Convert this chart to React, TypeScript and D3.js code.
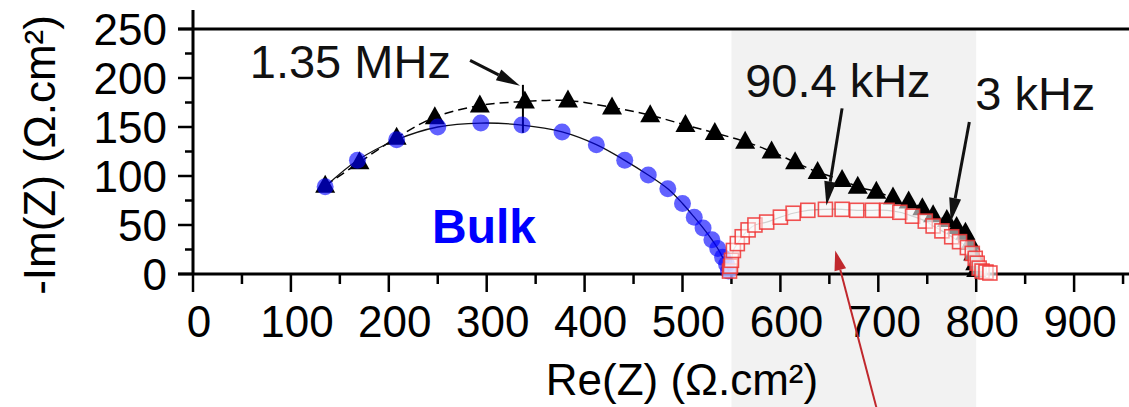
import React from 'react';
import * as d3 from 'd3';

// Nyquist data, Re(Z) / -Im(Z) in Ω.cm²
const bulkRe = [135, 168, 208, 250, 294, 336, 377, 412, 441, 465, 485, 500, 512, 521, 530, 536, 541, 545, 547];
const bulkIm = [89, 116, 137, 150, 154, 152, 145, 132, 116, 101, 87, 72, 58, 47, 35, 26, 17, 10, 3];

const totalRe = [135, 170, 208, 247, 293, 339, 383, 428, 467, 503, 533, 564, 591, 615, 638, 663, 679, 698, 715, 731, 745, 756, 770, 780, 789, 794, 797, 799, 800];
const totalIm = [90, 114, 139, 160, 172, 176, 177, 170, 162, 152, 144, 135, 125, 114, 104, 96, 89, 84, 78, 74, 67, 60, 55, 48, 42, 32, 21, 11, 4];

const gbRe = [548, 549, 550, 552, 556, 561, 567, 574, 586, 600, 613, 628, 646, 663, 678, 694, 709, 722, 735, 748, 756, 765, 775, 783, 791, 796, 799, 801, 803, 806, 810, 814];
const gbIm = [3, 8, 14, 24, 31, 38, 45, 50, 53, 58, 62, 65, 66, 66, 65, 65, 65, 63, 59, 54, 49, 44, 38, 33, 27, 21, 16, 11, 6, 3, 2, 1];

const yTicks = d3.range(0, 251, 25);
const xTicks = d3.range(0, 1000, 50);
const bandRange = [550, 800];

// annotations: [text, re, im] and arrows [reFrom, imFrom, reTo, imTo]
const freqLabels: [string, number, number][] = [
  ['1.35 MHz', 58, 200],
  ['90.4 kHz', 564, 181],
  ['3 kHz', 799, 167],
];
const blackArrows: [number, number, number, number][] = [
  [283, 218, 334, 192],
  [663, 169, 647, 70],
  [793, 155, 774, 53],
];
const redArrow: [number, number, number, number] = [698, -136, 656, 24];

const W = 1129;
const H = 407;
const font = '"Liberation Sans", Arial, sans-serif';

const x = d3.scaleLinear().domain([0, 1000]).range([193, 1172]);
const y = d3.scaleLinear().domain([0, 250]).range([274, 29]);

const Arrow = ({ a, color, width, headLen, headW }: { a: number[]; color: string; width: number; headLen: number; headW: number }) => {
  const x1 = x(a[0]), y1 = y(a[1]), x2 = x(a[2]), y2 = y(a[3]);
  const ang = Math.atan2(y2 - y1, x2 - x1);
  const bx = x2 - headLen * Math.cos(ang);
  const by = y2 - headLen * Math.sin(ang);
  const px = Math.sin(ang) * headW / 2;
  const py = -Math.cos(ang) * headW / 2;
  return (
    <g>
      <line x1={x1} y1={y1} x2={bx} y2={by} stroke={color} strokeWidth={width} />
      <path d={`M${x2},${y2} L${bx + px},${by + py} L${bx - px},${by - py} Z`} fill={color} />
    </g>
  );
};

export default function App() {
  const bulk = bulkRe.map((r, i) => [r, bulkIm[i]] as [number, number]);
  const total = totalRe.map((r, i) => [r, totalIm[i]] as [number, number]);
  const gb = gbRe.map((r, i) => [r, gbIm[i]] as [number, number]);

  const line = d3.line<[number, number]>().x(d => x(d[0])).y(d => y(d[1])).curve(d3.curveCatmullRom);

  return (
    <svg width={W} height={H} style={{ position: 'absolute', left: 0, top: 0, background: '#fff' }} fontFamily={font}>
      {/* shaded grain boundary range */}
      <rect x={x(bandRange[0])} y={y(250)} width={x(bandRange[1]) - x(bandRange[0])} height={H - y(250)} fill="#f2f2f2" />

      {/* frame + axes */}
      <line x1={178} x2={W} y1={y(250)} y2={y(250)} stroke="#000" strokeWidth={3} />
      <line x1={x(0)} x2={x(0)} y1={10} y2={y(0)} stroke="#000" strokeWidth={3} />
      <line x1={178} x2={W} y1={y(0)} y2={y(0)} stroke="#000" strokeWidth={3} />
      {yTicks.map(t => (
        <line key={'yt' + t} x1={x(0) - (t % 50 === 0 ? 15 : 8)} x2={x(0)} y1={y(t)} y2={y(t)} stroke="#000" strokeWidth={2.5} />
      ))}
      {yTicks.filter(t => t % 50 === 0).map(t => (
        <text key={'yl' + t} x={167} y={y(t)} dy="0.36em" textAnchor="end" fontSize={44} fill="#000">{t}</text>
      ))}
      {xTicks.map(t => (
        <line key={'xt' + t} x1={x(t)} x2={x(t)} y1={y(0)} y2={y(0) + (t % 100 === 0 ? 18 : 10)} stroke="#000" strokeWidth={2.5} />
      ))}
      {xTicks.filter(t => t % 100 === 0).map(t => (
        <text key={'xl' + t} x={x(t) + 6} y={337} textAnchor="middle" fontSize={44} fill="#000">{t}</text>
      ))}
      <text x={682} y={395} textAnchor="middle" fontSize={44} fill="#000">Re(Z) (Ω.cm²)</text>
      <text transform="translate(55,155) rotate(-90)" textAnchor="middle" fontSize={44} fill="#000">-Im(Z) (Ω.cm²)</text>

      {/* series */}
      <path d={line(total) || ''} fill="none" stroke="#000" strokeWidth={1.5} strokeDasharray="9,5" />
      <path d={line(bulk) || ''} fill="none" stroke="#111" strokeWidth={1.3} />
      <path d={line(gb) || ''} fill="none" stroke="#999" strokeWidth={1.2} />

      {total.map((d, i) => (
        <path key={'tr' + i} transform={`translate(${x(d[0])},${y(d[1])})`} d="M0,-11 L10,7 L-10,7 Z" fill="#000" />
      ))}
      <line x1={x(337)} x2={x(337)} y1={y(193)} y2={y(144)} stroke="#000" strokeWidth={2} />
      {bulk.map((d, i) => (
        <circle key={'bc' + i} cx={x(d[0])} cy={y(d[1])} r={8.5} fill="#0000ff" fillOpacity={0.62} />
      ))}
      {gb.map((d, i) => (
        <rect key={'gb' + i} x={x(d[0]) - 7} y={y(d[1]) - 7} width={14} height={14} fill="#fff" fillOpacity={0.55} stroke="#ee3333" strokeOpacity={0.85} strokeWidth={1.6} />
      ))}

      {/* annotations */}
      {freqLabels.map(([t, r, im]) => (
        <text key={t} x={x(r)} y={y(im)} fontSize={47} fill="#111">{t}</text>
      ))}
      <text x={432} y={243} fontSize={48} fontWeight="bold" fill="#0000ff">Bulk</text>
      {blackArrows.map((a, i) => (
        <Arrow key={'ar' + i} a={a} color="#111" width={3} headLen={24} headW={12} />
      ))}
      <Arrow a={redArrow} color="#c0282d" width={2} headLen={20} headW={12} />
    </svg>
  );
}
